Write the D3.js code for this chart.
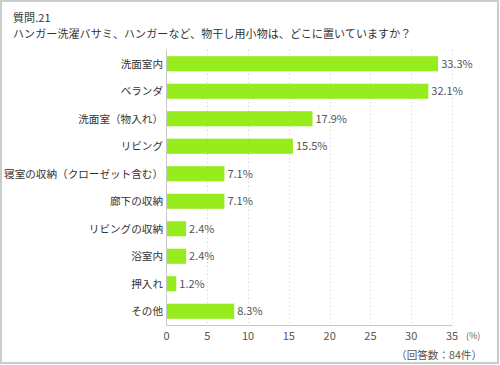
<!DOCTYPE html>
<html><head><meta charset="utf-8">
<script src="https://cdn.jsdelivr.net/npm/d3@7"></script>
<style>body{margin:0;background:#fff}svg{display:block}text{font-family:"Noto Sans CJK JP","Noto Sans",sans-serif}</style>
</head><body>
<script>
const categories = ["洗面室内","ベランダ","洗面室（物入れ）","リビング","寝室の収納（クローゼット含む）","廊下の収納","リビングの収納","浴室内","押入れ","その他"];
const values = [33.3,32.1,17.9,15.5,7.1,7.1,2.4,2.4,1.2,8.3];
const ticks = [0,5,10,15,20,25,30,35];
const titleLines = ["質問.21","ハンガー洗濯バサミ、ハンガーなど、物干し用小物は、どこに置いていますか？"];
const unitLabel = "(%)";
const noteLabel = "（回答数：84件）";

const W=500,H=365;
const svg=d3.select("body").append("svg").attr("width",W).attr("height",H);
svg.append("rect").attr("x",1).attr("y",1).attr("width",497).attr("height",362)
  .attr("fill","#fff").attr("stroke","#cccccc").attr("stroke-width",2);

svg.selectAll("text.title").data(titleLines).join("text").attr("class","title")
  .attr("x",13).attr("y",(d,i)=>22+i*16).attr("font-size",11).attr("letter-spacing",0.1)
  .attr("fill","#333").text(d=>d);

const x=d3.scaleLinear().domain([0,35]).range([166.5,452]);
const y=d3.scaleBand().domain(categories).range([50,325]).paddingInner(0.45).paddingOuter(0.225);

const g=svg.append("g");
// grid
g.selectAll("line.grid").data(ticks.slice(1)).join("line")
  .attr("x1",d=>Math.round(x(d))+0.5).attr("x2",d=>Math.round(x(d))+0.5)
  .attr("y1",50).attr("y2",325).attr("stroke","#d0d0d0").attr("stroke-dasharray","1,3");
// bars
g.selectAll("rect.bar").data(values).join("rect")
  .attr("x",x(0)).attr("y",(d,i)=>y(categories[i]))
  .attr("width",d=>x(d)-x(0)).attr("height",y.bandwidth())
  .attr("fill","#97ec1e");
// value labels
g.selectAll("text.val").data(values).join("text")
  .attr("x",d=>x(d)+3).attr("y",(d,i)=>y(categories[i])+y.bandwidth()/2)
  .attr("dy","0.36em").attr("font-size",11).attr("fill","#555")
  .text(d=>d.toFixed(1)+"%");
// category labels
g.selectAll("text.cat").data(categories).join("text")
  .attr("x",163).attr("y",d=>y(d)+y.bandwidth()/2).attr("dy","0.36em")
  .attr("text-anchor","end").attr("font-size",10.6).attr("fill","#333").text(d=>d);
// axes lines
g.append("line").attr("x1",166.5).attr("x2",166.5).attr("y1",50).attr("y2",325.5).attr("stroke","#c8c8c8");
g.append("line").attr("x1",166).attr("x2",452.5).attr("y1",325.5).attr("y2",325.5).attr("stroke","#c8c8c8");
// tick labels
g.selectAll("text.tick").data(ticks).join("text")
  .attr("x",d=>x(d)).attr("y",340).attr("text-anchor","middle")
  .attr("font-size",11).attr("fill","#555").text(d=>d);
svg.append("text").attr("x",466).attr("y",339).attr("font-size",9).attr("fill","#666").text(unitLabel);
svg.append("text").attr("x",482).attr("y",359).attr("text-anchor","end").attr("font-size",10.6).attr("fill","#555").text(noteLabel);
</script>
</body></html>
